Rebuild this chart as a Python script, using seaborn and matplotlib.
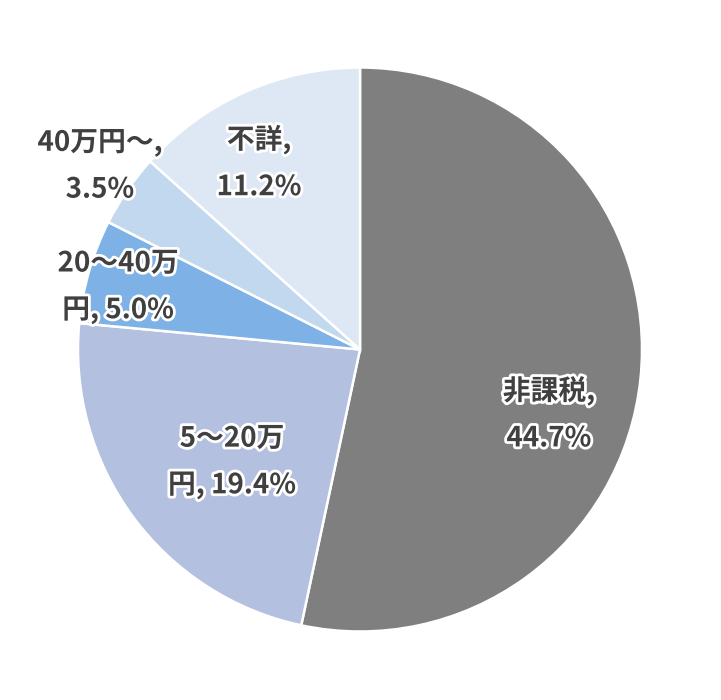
import matplotlib
matplotlib.use('Agg')
import matplotlib.pyplot as plt
import matplotlib.patheffects as pe
import seaborn as sns

# Data
categories = ['非課税', '5～20万円', '20～40万円', '40万円～', '不詳']
values = [44.7, 19.4, 5.0, 3.5, 11.2]
label_texts = ['非課税,\n44.7%', '5～20万\n円, 19.4%', '20～40万\n円, 5.0%',
               '40万円～,\n3.5%', '不詳,\n11.2%']
colors = ['#7F7F7F', '#B4C0E0', '#7EB1E6', '#C2D8EE', '#DEE8F4']

# label placement (data coords, pie radius = 1)
label_pos = [(0.670, -0.229), (-0.454, -0.399), (-0.858, 0.222),
             (-0.922, 0.650), (-0.358, 0.661)]

sns.set_theme(style='white')
plt.rcParams['font.family'] = ['Noto Sans CJK JP', 'DejaVu Sans']

fig = plt.figure(figsize=(7.21, 7.0), dpi=100)
lim = 1.2
w = 2 * lim * 282 / 721
h = 2 * lim * 282 / 700
ax = fig.add_axes([(360 - lim * 282) / 721, (350.5 - lim * 282) / 700, w, h])

ax.pie(values, colors=colors, startangle=90, counterclock=False,
       wedgeprops=dict(edgecolor='white', linewidth=1.8))
ax.set_xlim(-lim, lim)
ax.set_ylim(-lim, lim)
ax.set_aspect('equal')
ax.axis('off')

for txt, (x, y) in zip(label_texts, label_pos):
    ax.text(x, y, txt, ha='center', va='center', multialignment='center',
            fontsize=20, fontweight='bold', color='#404040', linespacing=1.85,
            path_effects=[pe.withStroke(linewidth=4, foreground='white')])

fig.savefig('out.png', dpi=100, facecolor='white')
